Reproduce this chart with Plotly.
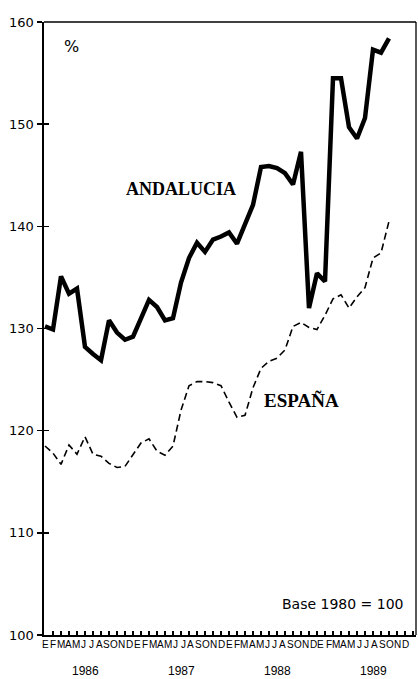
import plotly.graph_objects as go

# ---- data ----
month_letters = ["E", "F", "M", "A", "M", "J", "J", "A", "S", "O", "N", "D"]
years = ["1986", "1987", "1988", "1989"]

andalucia = [130.2, 129.9, 135.1, 133.4, 133.9, 128.2, 127.5, 126.9, 130.8, 129.6, 128.9, 129.2,
             131.0, 132.8, 132.1, 130.8, 131.0, 134.5, 136.9, 138.4, 137.5, 138.7, 139.0, 139.4,
             138.3, 140.3, 142.1, 145.8, 145.9, 145.7, 145.2, 144.1, 147.3, 132.0, 135.4, 134.6,
             154.5, 154.5, 149.7, 148.6, 150.6, 157.3, 157.0, 158.4]

espana = [118.5, 117.8, 116.7, 118.6, 117.7, 119.4, 117.7, 117.5, 116.8, 116.4, 116.5, 117.6,
          118.8, 119.2, 118.0, 117.6, 118.5, 122.0, 124.4, 124.8, 124.8, 124.7, 124.4, 122.8,
          121.3, 121.5, 124.2, 126.1, 126.8, 127.1, 127.9, 130.2, 130.6, 130.1, 129.9, 131.3,
          132.9, 133.3, 132.0, 133.1, 134.0, 136.9, 137.4, 140.5]

y_ticks = [100, 110, 120, 130, 140, 150, 160]

months_all = [m for _ in years for m in month_letters]
idx_a = list(range(len(andalucia)))
idx_e = list(range(len(espana)))

fig = go.Figure()
fig.add_trace(go.Scatter(x=idx_e, y=espana, mode="lines",
                         line=dict(color="black", width=1.6, dash="7px,4px"),
                         showlegend=False, hoverinfo="skip"))
fig.add_trace(go.Scatter(x=idx_a, y=andalucia, mode="lines",
                         line=dict(color="black", width=4.5),
                         showlegend=False, hoverinfo="skip"))
# dummy trace for the secondary y axis (inner half of "+" ticks)
fig.add_trace(go.Scatter(x=[0], y=[100], yaxis="y2", mode="markers",
                         marker=dict(opacity=0), showlegend=False, hoverinfo="skip"))

tickfont_y = dict(family="DejaVu Sans", size=13, color="black")

fig.update_layout(
    width=418, height=679,
    margin=dict(l=44, r=2, t=22, b=44),
    paper_bgcolor="white", plot_bgcolor="white",
    xaxis=dict(range=[-0.125, 46.375], showgrid=False, zeroline=False,
               showline=True, linecolor="black", linewidth=2,
               ticks="inside", tick0=0, dtick=1, ticklen=4, tickwidth=1.2,
               tickcolor="black", showticklabels=False),
    yaxis=dict(range=[100, 160], showgrid=False, zeroline=False,
               showline=True, linecolor="black", linewidth=2.5,
               tickmode="array", tickvals=y_ticks, ticks="outside",
               ticklen=5, tickwidth=1.5, tickcolor="black",
               tickfont=tickfont_y),
    yaxis2=dict(overlaying="y", side="left", range=[100, 160],
                showgrid=False, zeroline=False, showline=False,
                tickmode="array", tickvals=y_ticks, ticks="inside",
                ticklen=5, tickwidth=1.5, tickcolor="black",
                showticklabels=False),
    shapes=[
        dict(type="line", xref="paper", yref="paper", x0=0, x1=1, y0=1, y1=1,
             line=dict(color="black", width=1.3)),
        dict(type="line", xref="paper", yref="paper", x0=1, x1=1, y0=0, y1=1,
             line=dict(color="black", width=1.3)),
    ],
)

annotations = [
    dict(text="%", x=3.25, y=157.6, xref="x", yref="y", showarrow=False,
         font=dict(family="DejaVu Sans", size=16, color="black")),
    dict(text="<b>ANDALUCIA</b>", x=17, y=143.7, xref="x", yref="y", showarrow=False,
         font=dict(family="Liberation Serif", size=18, color="black")),
    dict(text="<b>ESPAÑA</b>", x=32.1, y=123.0, xref="x", yref="y", showarrow=False,
         font=dict(family="Liberation Serif", size=19, color="black")),
    dict(text="Base 1980 = 100", x=37.25, y=103.0, xref="x", yref="y", showarrow=False,
         font=dict(family="DejaVu Sans", size=14, color="black")),
]
# month initials: printed slightly tighter (7.65 px) than the 8 px month spacing of the data
label_step = 7.65 / 8.0
for j, m in enumerate(months_all):
    annotations.append(dict(text=m, x=0.06 + j * label_step, y=0, xref="x", yref="paper",
                            yanchor="top", yshift=-2, showarrow=False,
                            font=dict(family="Liberation Sans", size=10, color="black")))
for k, yr in enumerate(years):
    annotations.append(dict(text=yr, x=5 + 12 * k, y=0, xref="x", yref="paper",
                            yanchor="top", yshift=-27, showarrow=False,
                            font=dict(family="Liberation Sans", size=12, color="black")))
fig.update_layout(annotations=annotations)

fig.write_html("out.html", config={"displayModeBar": False, "staticPlot": True})

# remove the default page margin so the figure sits at the window's top-left corner
with open("out.html", "r", encoding="utf-8") as f:
    html = f.read()
html = html.replace("<head>", "<head><style>html,body{margin:0;padding:0;overflow:hidden;}</style>", 1)
with open("out.html", "w", encoding="utf-8") as f:
    f.write(html)
